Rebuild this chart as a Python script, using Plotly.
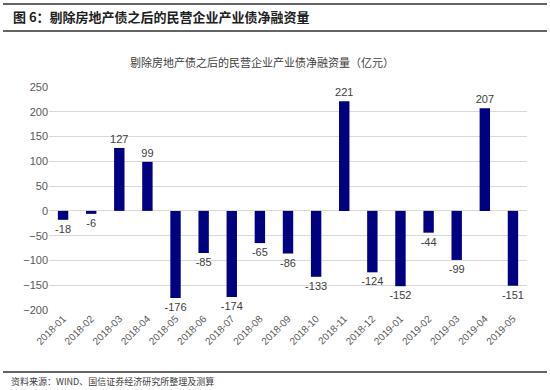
import plotly.graph_objects as go

categories = ["2018-01", "2018-02", "2018-03", "2018-04", "2018-05", "2018-06",
              "2018-07", "2018-08", "2018-09", "2018-10", "2018-11", "2018-12",
              "2019-01", "2019-02", "2019-03", "2019-04", "2019-05"]
values = [-18, -6, 127, 99, -176, -85, -174, -65, -86, -133, 221, -124,
          -152, -44, -99, 207, -151]
y_ticks = [-200, -150, -100, -50, 0, 50, 100, 150, 200, 250]

fig_title = "图 6：剔除房地产债之后的民营企业产业债净融资量"
chart_title = "剔除房地产债之后的民营企业产业债净融资量（亿元）"
source_text = "资料来源：WIND、国信证券经济研究所整理及测算"

W, H = 550, 390
# plot area in pixels
pl, pr, pt, pb = 49, 527, 87, 310

def px(x):
    return x / W

def py(y):
    return 1 - y / H

fig = go.Figure()

# decorative horizontal rules of the report frame, on a full-page pixel overlay
rules = [4, 31, 372]
rx, ry = [], []
for r in rules:
    rx += [3, 547, None]
    ry += [r, r, None]
fig.add_trace(go.Scatter(
    x=rx, y=ry, xaxis="x2", yaxis="y2", mode="lines",
    line=dict(color="#303030", width=1.5), hoverinfo="skip", connectgaps=False,
))

fig.add_trace(go.Bar(
    x=categories, y=values,
    marker=dict(color="#000080", line=dict(width=0)),
    width=0.37,
    text=[str(v) for v in values],
    textposition="outside",
    constraintext="none",
    textfont=dict(family="Liberation Sans, Arial, sans-serif", size=11, color="#404040"),
    cliponaxis=False,
    hoverinfo="skip",
))

fig.update_layout(
    width=W, height=H,
    margin=dict(l=0, r=0, t=0, b=0, pad=0),
    paper_bgcolor="white", plot_bgcolor="rgba(0,0,0,0)",
    showlegend=False,
    font=dict(family="Liberation Sans, Arial, sans-serif", color="#595959"),
    xaxis=dict(
        domain=[px(pl), px(pr)],
        type="category", categoryorder="array", categoryarray=categories,
        tickangle=-45, tickfont=dict(size=10, color="#595959"),
        showgrid=False, showline=False, ticks="", automargin=False,
    ),
    yaxis=dict(
        domain=[py(pb), py(pt)],
        range=[-200, 250], tickvals=y_ticks,
        showgrid=True, gridcolor="#d9d9d9", gridwidth=1,
        zeroline=False, showline=False,
        tickfont=dict(size=11, color="#595959"),
        ticks="", ticklen=0, automargin=False,
    ),
    xaxis2=dict(domain=[0, 1], range=[0, W], visible=False, anchor="y2",
                showgrid=False, zeroline=False, fixedrange=True),
    yaxis2=dict(domain=[0, 1], range=[H, 0], visible=False, anchor="x2",
                showgrid=False, zeroline=False, fixedrange=True),
    annotations=[
        dict(text="<b>" + fig_title + "</b>", xref="paper", yref="paper",
             x=px(11), y=py(17), xanchor="left", yanchor="middle", showarrow=False,
             font=dict(family="Noto Sans CJK SC", size=13, color="#202020")),
        dict(text=chart_title, xref="paper", yref="paper",
             x=px(262), y=py(62), xanchor="center", yanchor="middle", showarrow=False,
             font=dict(family="Noto Sans CJK SC", size=11, color="#404040")),
        dict(text=source_text, xref="paper", yref="paper",
             x=px(9), y=py(381), xanchor="left", yanchor="middle", showarrow=False,
             font=dict(family="Noto Sans CJK SC", size=9, color="#404040")),
    ],
)

fig.write_html("out.html", config={"displayModeBar": False},
               post_script="document.body.style.margin='0';document.body.style.padding='0';")
